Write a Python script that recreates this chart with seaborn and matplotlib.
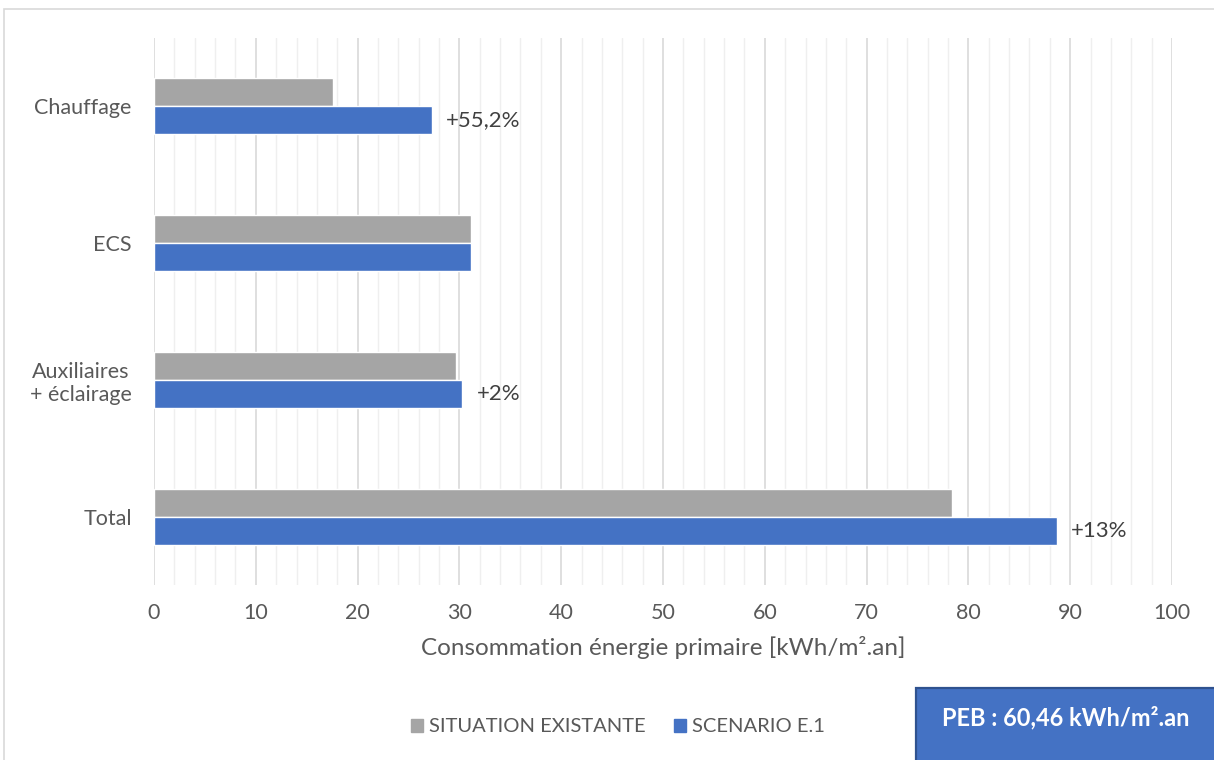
import matplotlib
matplotlib.use("Agg")
import matplotlib.pyplot as plt
from matplotlib.patches import Rectangle
from matplotlib.ticker import MultipleLocator
import seaborn as sns
import pandas as pd

categories = ["Chauffage", "ECS", "Auxiliaires\n+ éclairage", "Total"]
existing = [17.6, 31.1, 29.7, 78.4]
scenario = [27.3, 31.1, 30.3, 88.7]
series_names = ["SITUATION EXISTANTE", "SCENARIO E.1"]
change_labels = ["+55,2%", "", "+2%", "+13%"]
x_ticks = [0, 10, 20, 30, 40, 50, 60, 70, 80, 90, 100]

GREY = "#A5A5A5"
BLUE = "#4472C4"
TEXT = "#595959"

sns.set_theme(style="white")
plt.rcParams["font.family"] = ["Lato", "DejaVu Sans"]

df = pd.DataFrame({
    "cat": categories * 2,
    "val": existing + scenario,
    "serie": [series_names[0]] * 4 + [series_names[1]] * 4,
})

fig = plt.figure(figsize=(12.14, 7.6), dpi=100)
ax = fig.add_axes([154 / 1214, 1 - 585 / 760, (1172 - 154) / 1214, (585 - 38) / 760])

sns.barplot(data=df, y="cat", x="val", hue="serie", orient="h",
            palette=[GREY, BLUE], width=0.41, ax=ax, legend=False,
            saturation=1, zorder=3)

ax.set_xlim(0, 100)
ax.set_ylim(3.5, -0.5)
ax.xaxis.set_minor_locator(MultipleLocator(2))
ax.set_xticks(x_ticks)
ax.grid(axis="x", which="major", color="#D9D9D9", linewidth=1.2, zorder=0)
ax.grid(axis="x", which="minor", color="#EFEFEF", linewidth=1.0, zorder=0)
ax.set_axisbelow(True)
for s in ax.spines.values():
    s.set_visible(False)
ax.tick_params(axis="both", which="both", length=0, colors=TEXT)
ax.tick_params(axis="x", labelsize=15.5, pad=13)
ax.tick_params(axis="y", labelsize=15.5, pad=16)
for lbl in ax.get_yticklabels():
    lbl.set_multialignment("center")
ax.set_ylabel("")
ax.set_xlabel("Consommation énergie primaire [kWh/m².an]", color=TEXT,
              fontsize=17.5, labelpad=9)

# value change labels next to the scenario bars
bar_h = 0.41 / 2
for i, (v, t) in enumerate(zip(scenario, change_labels)):
    if t:
        ax.text(v + 1.4, i + bar_h / 2, t, va="center", ha="left",
                color="#404040", fontsize=16)

# legend
handles = [Rectangle((0, 0), 1, 1, color=GREY), Rectangle((0, 0), 1, 1, color=BLUE)]
fig.legend(handles, series_names, loc="center", bbox_to_anchor=(618 / 1214, 1 - 727 / 760),
           ncol=2, frameon=False, fontsize=14.5, handlelength=0.6, handleheight=0.6,
           handletextpad=0.3, columnspacing=1.4, labelcolor=TEXT)

# outer chart frame
fig.patches.append(Rectangle((4 / 1214, -0.02), 1.1, 1 - 9 / 760 + 0.02,
                             transform=fig.transFigure, fill=False,
                             edgecolor="#D9D9D9", linewidth=1.2))

# PEB box
fig.patches.append(Rectangle((916 / 1214, -0.02), 0.3, 1 - 688 / 760 + 0.02,
                             transform=fig.transFigure, facecolor=BLUE,
                             edgecolor="#2F528F", linewidth=1.6))
fig.text(1066 / 1214, 1 - 718 / 760, "PEB : 60,46 kWh/m².an", color="white",
         fontsize=17, fontweight="bold", ha="center", va="center")

fig.savefig("out.png", dpi=100)
